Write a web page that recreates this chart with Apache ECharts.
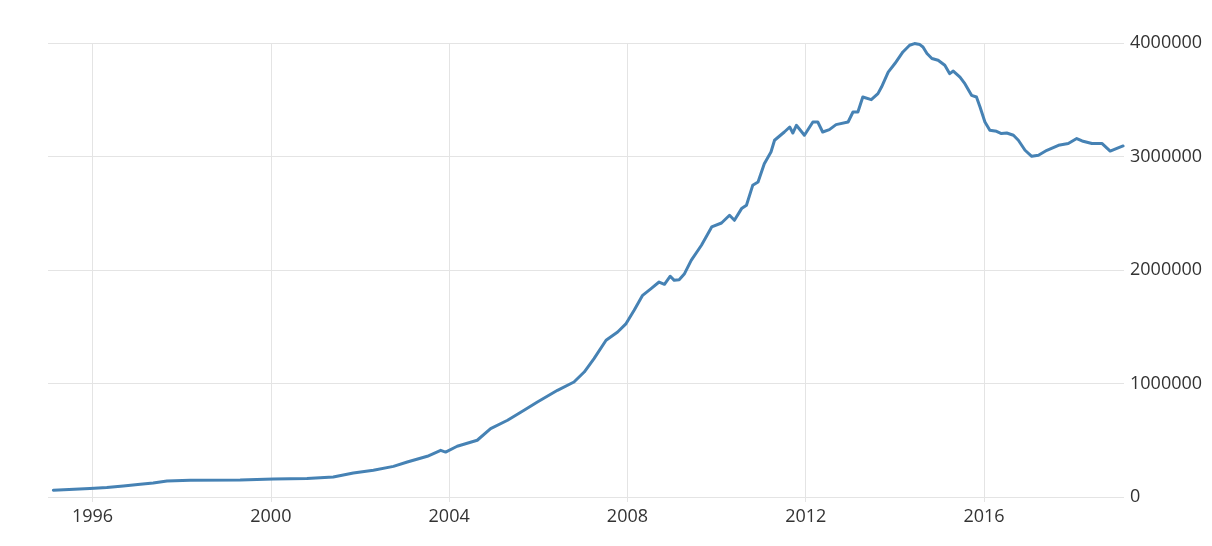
<!DOCTYPE html>
<html>
<head>
<meta charset="utf-8">
<script src="https://cdn.jsdelivr.net/npm/echarts@6/dist/echarts.min.js"></script>
<style>
html,body{margin:0;padding:0;background:#fff;}
#chart{width:1212px;height:546px;}
</style>
</head>
<body>
<div id="chart"></div>
<script>
var years = [1995.12,1995.94,1996.32,1996.69,1997.07,1997.36,1997.67,1998.19,1999.31,2000.06,
2000.81,2001.40,2001.85,2002.30,2002.75,2003.06,2003.51,2003.81,2003.92,2004.18,
2004.63,2004.93,2005.31,2005.68,2005.98,2006.43,2006.80,2007.03,2007.25,2007.52,
2007.78,2007.97,2008.15,2008.34,2008.53,2008.71,2008.83,2008.96,2009.05,2009.16,
2009.28,2009.43,2009.66,2009.89,2010.11,2010.29,2010.40,2010.56,2010.67,2010.81,
2010.93,2011.07,2011.22,2011.30,2011.52,2011.64,2011.71,2011.79,2011.97,2012.16,
2012.27,2012.38,2012.53,2012.68,2012.95,2013.06,2013.17,2013.28,2013.47,2013.62,
2013.70,2013.85,2014.00,2014.18,2014.33,2014.44,2014.56,2014.63,2014.72,2014.83,
2014.97,2015.12,2015.23,2015.31,2015.46,2015.57,2015.72,2015.83,2015.91,2016.02,
2016.13,2016.28,2016.39,2016.51,2016.66,2016.77,2016.92,2017.07,2017.22,2017.41,
2017.67,2017.89,2018.08,2018.20,2018.42,2018.65,2018.83,2018.98,2019.12];

var values = [59000,74000,83000,97000,112000,123000,141000,147000,150000,159000,
162000,176000,211000,235000,270000,308000,359000,411000,396000,447000,
500000,603000,676000,764000,837000,940000,1013000,1101000,1219000,1381000,
1454000,1528000,1645000,1777000,1836000,1894000,1874000,1945000,1909000,1915000,
1968000,2085000,2218000,2379000,2414000,2482000,2438000,2541000,2570000,2746000,
2775000,2937000,3040000,3143000,3216000,3260000,3207000,3275000,3187000,3304000,
3304000,3216000,3237000,3281000,3304000,3392000,3392000,3524000,3501000,3554000,
3612000,3744000,3819000,3921000,3980000,3995000,3986000,3965000,3907000,3863000,
3848000,3804000,3730000,3753000,3700000,3642000,3539000,3524000,3436000,3304000,
3231000,3222000,3202000,3207000,3187000,3143000,3055000,3002000,3011000,3055000,
3099000,3114000,3158000,3137000,3114000,3114000,3048000,3072000,3093000];

var xTickYears = [1996, 2000, 2004, 2008, 2012, 2016];
var yTicks = [0, 1000000, 2000000, 3000000, 4000000];

var seriesData = years.map(function (y, i) { return [y, values[i]]; });

var chart = echarts.init(document.getElementById('chart'), null, {renderer: 'canvas'});
var gridColor = '#e4e4e4';
chart.setOption({
  backgroundColor: '#ffffff',
  animation: false,
  grid: {left: 48, right: 88, top: 43, bottom: 49, containLabel: false},
  xAxis: {
    type: 'value',
    min: 1995.0,
    max: 2019.14,
    axisLine: {show: false},
    axisTick: {show: true, length: 5, customValues: xTickYears, lineStyle: {color: gridColor}},
    splitLine: {show: true, lineStyle: {color: gridColor, width: 1}},
    axisLabel: {
      customValues: xTickYears,
      margin: 11,
      color: '#333',
      fontFamily: 'Open Sans',
      fontSize: 18,
      formatter: function (v) { return String(Math.round(v)); }
    }
  },
  yAxis: {
    type: 'value',
    position: 'right',
    min: 0,
    max: 4000000,
    interval: 1000000,
    axisLine: {show: false},
    axisTick: {show: false},
    splitLine: {show: true, lineStyle: {color: gridColor, width: 1}},
    axisLabel: {
      customValues: yTicks,
      margin: 6,
      color: '#333',
      fontFamily: 'Open Sans',
      fontSize: 18,
      formatter: function (v) { return String(v); }
    }
  },
  series: [{
    type: 'line',
    data: seriesData,
    showSymbol: false,
    smooth: false,
    lineStyle: {color: '#4682b4', width: 3, join: 'round', cap: 'round'}
  }]
});
</script>
</body>
</html>
